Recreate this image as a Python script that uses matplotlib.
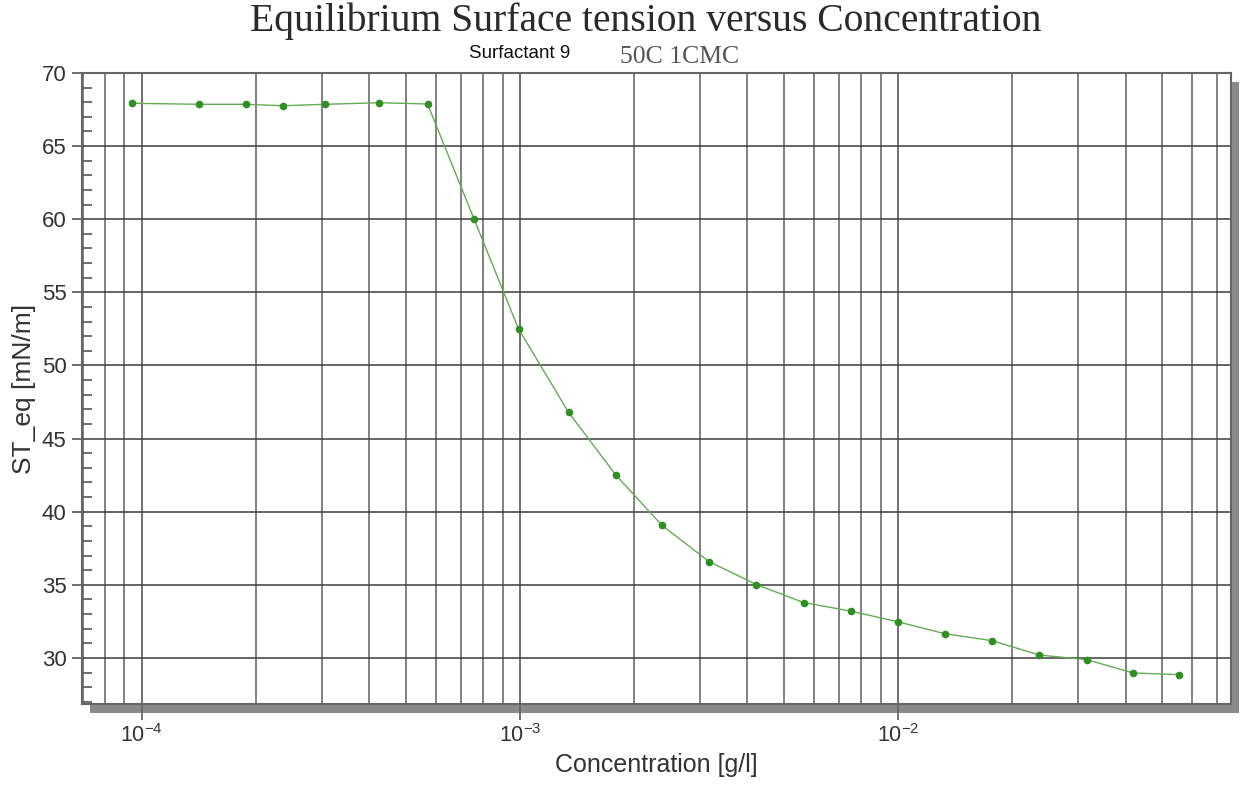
import numpy as np
import matplotlib
matplotlib.use("Agg")
import matplotlib.pyplot as plt
from matplotlib.patches import Rectangle
from matplotlib.ticker import LogLocator, MultipleLocator

# data
conc = [9.43e-5, 1.418e-4, 1.89e-4, 2.36e-4, 3.06e-4, 4.24e-4, 5.70e-4,
        7.57e-4, 9.92e-4, 1.345e-3, 1.795e-3, 2.375e-3, 3.17e-3, 4.22e-3,
        5.63e-3, 7.51e-3, 1.0e-2, 1.33e-2, 1.775e-2, 2.365e-2, 3.16e-2,
        4.19e-2, 5.55e-2]
st_eq = [67.93, 67.86, 67.86, 67.76, 67.86, 67.97, 67.88,
         60.0, 52.5, 46.8, 42.5, 39.07, 36.58, 35.02,
         33.79, 33.2, 32.47, 31.66, 31.18, 30.2, 29.88,
         28.97, 28.86]

title = "Equilibrium Surface tension versus Concentration"
sub_left = "Surfactant 9"
sub_right = "50C 1CMC"

W, H = 1240, 785
fig = plt.figure(figsize=(W / 100, H / 100), dpi=100)
plt.rcParams['font.family'] = ['Liberation Sans', 'DejaVu Sans']

# axes box in pixels
x0, x1, y0, y1 = 82, 1231, 73, 704
ax = fig.add_axes([x0 / W, 1 - y1 / H, (x1 - x0) / W, (y1 - y0) / H])

# drop shadow behind the frame
sh = Rectangle(((x0 + 8) / W, 1 - (y1 + 9) / H), (x1 - x0) / W, (y1 - y0) / H,
               transform=fig.transFigure, facecolor='#8a8a8a', edgecolor='none',
               zorder=-1)
fig.patches.append(sh)

ax.set_xscale('log')
ax.set_xlim(6.95e-5, 7.6e-2)
ax.set_ylim(26.85, 70)

ax.plot(conc, st_eq, '-', color='#62ad52', lw=1.0, zorder=3)
ax.plot(conc, st_eq, 'o', color='#2f8f22', ms=4.5, mec='#2f8f22', zorder=4)

# grid
ax.xaxis.set_major_locator(LogLocator(base=10, numticks=10))
ax.xaxis.set_minor_locator(LogLocator(base=10, subs=np.arange(2, 10), numticks=20))
ax.yaxis.set_major_locator(MultipleLocator(5))
ax.yaxis.set_minor_locator(MultipleLocator(1))
ax.grid(True, which='major', axis='x', color='#666666', lw=1.3)
ax.grid(True, which='minor', axis='x', color='#777777', lw=1.3)
ax.grid(True, which='major', axis='y', color='#3c3c3c', lw=1.1)
ax.set_axisbelow(True)

for s in ax.spines.values():
    s.set_color('#666666')
    s.set_linewidth(1.5)

ax.tick_params(axis='x', which='major', direction='out', length=11.5, width=1.3,
               color='#666666', labelsize=15.5, labelcolor='#333333', pad=3)
ax.tick_params(axis='x', which='minor', length=0)
ax.tick_params(axis='y', which='major', direction='out', length=7, width=1.2,
               color='#555555', labelsize=16, labelcolor='#333333', pad=4)
ax.tick_params(axis='y', which='minor', direction='in', length=7, width=1.2,
               color='#555555')

ax.set_xlabel("Concentration [g/l]", fontsize=18, color='#333333', labelpad=4)
ax.set_ylabel("ST_eq [mN/m]", fontsize=19, color='#333333', labelpad=4)

fig.text(646 / W, 1 - 21 / H, title, ha='center', va='center',
         family='Liberation Serif', fontsize=28.5, color='#2a2a2a')
fig.text(520 / W, 1 - 53 / H, sub_left, ha='center', va='center',
         fontsize=13.5, color='#111111')
fig.text(680 / W, 1 - 57 / H, sub_right, ha='center', va='center',
         family='Liberation Serif', fontsize=18.5, color='#555555')

fig.savefig("out.png", dpi=100)
